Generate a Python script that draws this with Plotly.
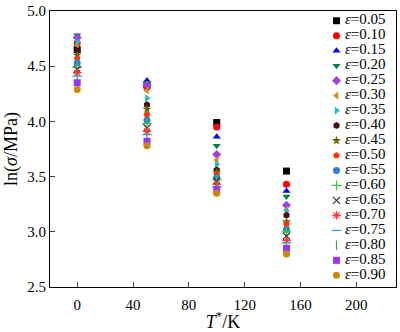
import plotly.graph_objects as go

temps = [0, 50, 100, 150]
strains = ["0.05", "0.10", "0.15", "0.20", "0.25", "0.30", "0.35", "0.40", "0.45",
           "0.50", "0.55", "0.60", "0.65", "0.70", "0.75", "0.80", "0.85", "0.90"]
ln_sigma = {
    "0.05": [4.65, 4.33, 3.99, 3.55],
    "0.10": [4.71, 4.31, 3.95, 3.43],
    "0.15": [4.77, 4.37, 3.86, 3.37],
    "0.20": [4.78, 4.35, 3.78, 3.32],
    "0.25": [4.76, 4.33, 3.70, 3.24],
    "0.30": [4.69, 4.28, 3.65, 3.20],
    "0.35": [4.72, 4.21, 3.61, 3.19],
    "0.40": [4.64, 4.15, 3.56, 3.15],
    "0.45": [4.60, 4.11, 3.54, 3.09],
    "0.50": [4.57, 4.06, 3.52, 3.07],
    "0.55": [4.53, 4.01, 3.49, 3.02],
    "0.60": [4.49, 3.98, 3.47, 3.00],
    "0.65": [4.47, 3.94, 3.46, 2.96],
    "0.70": [4.44, 3.91, 3.43, 2.92],
    "0.75": [4.41, 3.88, 3.41, 2.90],
    "0.80": [4.38, 3.85, 3.40, 2.87],
    "0.85": [4.35, 3.82, 3.38, 2.85],
    "0.90": [4.29, 3.78, 3.35, 2.80],
}
symbols = ["square", "circle", "triangle-up", "triangle-down", "diamond", "triangle-left",
           "triangle-right", "hexagon", "star", "pentagon", "circle", "cross-thin",
           "x-thin", "asterisk", "line-ew", "line-ns", "square", "circle"]
colors = ["#000000", "#FF0000", "#0000FF", "#008040", "#A040E0", "#D98C1A",
          "#20C0C8", "#4D0F0F", "#666600", "#FF3300", "#3380CC", "#33CC33",
          "#333333", "#FF3333", "#3399FF", "#33AA55", "#9933FF", "#CC8800"]

font = "Liberation Serif, Times New Roman, serif"
fig = go.Figure()
for s, sym, c in zip(strains, symbols, colors):
    thin = sym in ("cross-thin", "x-thin", "asterisk", "line-ew", "line-ns")
    mk = dict(symbol=sym, size=7, color=c, line=dict(width=1.2 if thin else 0, color=c))
    fig.add_trace(go.Scatter(x=temps, y=ln_sigma[s], mode="markers",
                             name="ε=" + s, marker=mk, showlegend=False))
    # legend entry drawn on an overlay axis, one row per strain category
    fig.add_trace(go.Scatter(x=[0.828], y=[s], mode="markers+text",
                             text=["\u2009<i>ε</i>=" + s], textposition="middle right",
                             textfont=dict(family=font, size=15, color="black"),
                             marker=mk, xaxis="x2", yaxis="y2",
                             showlegend=False, hoverinfo="skip", cliponaxis=False))

fig.update_layout(
    width=400, height=332,
    margin=dict(l=50, r=3, t=5, b=45),
    plot_bgcolor="white", paper_bgcolor="white",
    font=dict(family=font, size=15, color="black"),
    showlegend=False,
    xaxis=dict(range=[-19.5, 228.5], tickvals=[0, 40, 80, 120, 160, 200],
               ticks="inside", ticklen=5, showline=True, linecolor="black",
               linewidth=1, mirror=True, showgrid=False, zeroline=False,
               ticklabelstandoff=4,
               title=dict(text="<i>T</i><sup>*</sup>/K", standoff=0)),
    yaxis=dict(range=[2.5, 5.0], tickvals=[2.5, 3.0, 3.5, 4.0, 4.5, 5.0],
               tickformat=".1f", ticklabeloverflow="allow",
               ticks="inside", ticklen=5, showline=True, linecolor="black",
               linewidth=1, mirror=True, showgrid=False, zeroline=False,
               title=dict(text="ln(<i>σ</i>/MPa)", standoff=4)),
    xaxis2=dict(overlaying="x", range=[0, 1], visible=False, domain=[0, 1]),
    yaxis2=dict(overlaying="y", type="category", categoryarray=strains,
                categoryorder="array", range=[17.78, -0.65], visible=False),
)
fig.write_html("out.html")
